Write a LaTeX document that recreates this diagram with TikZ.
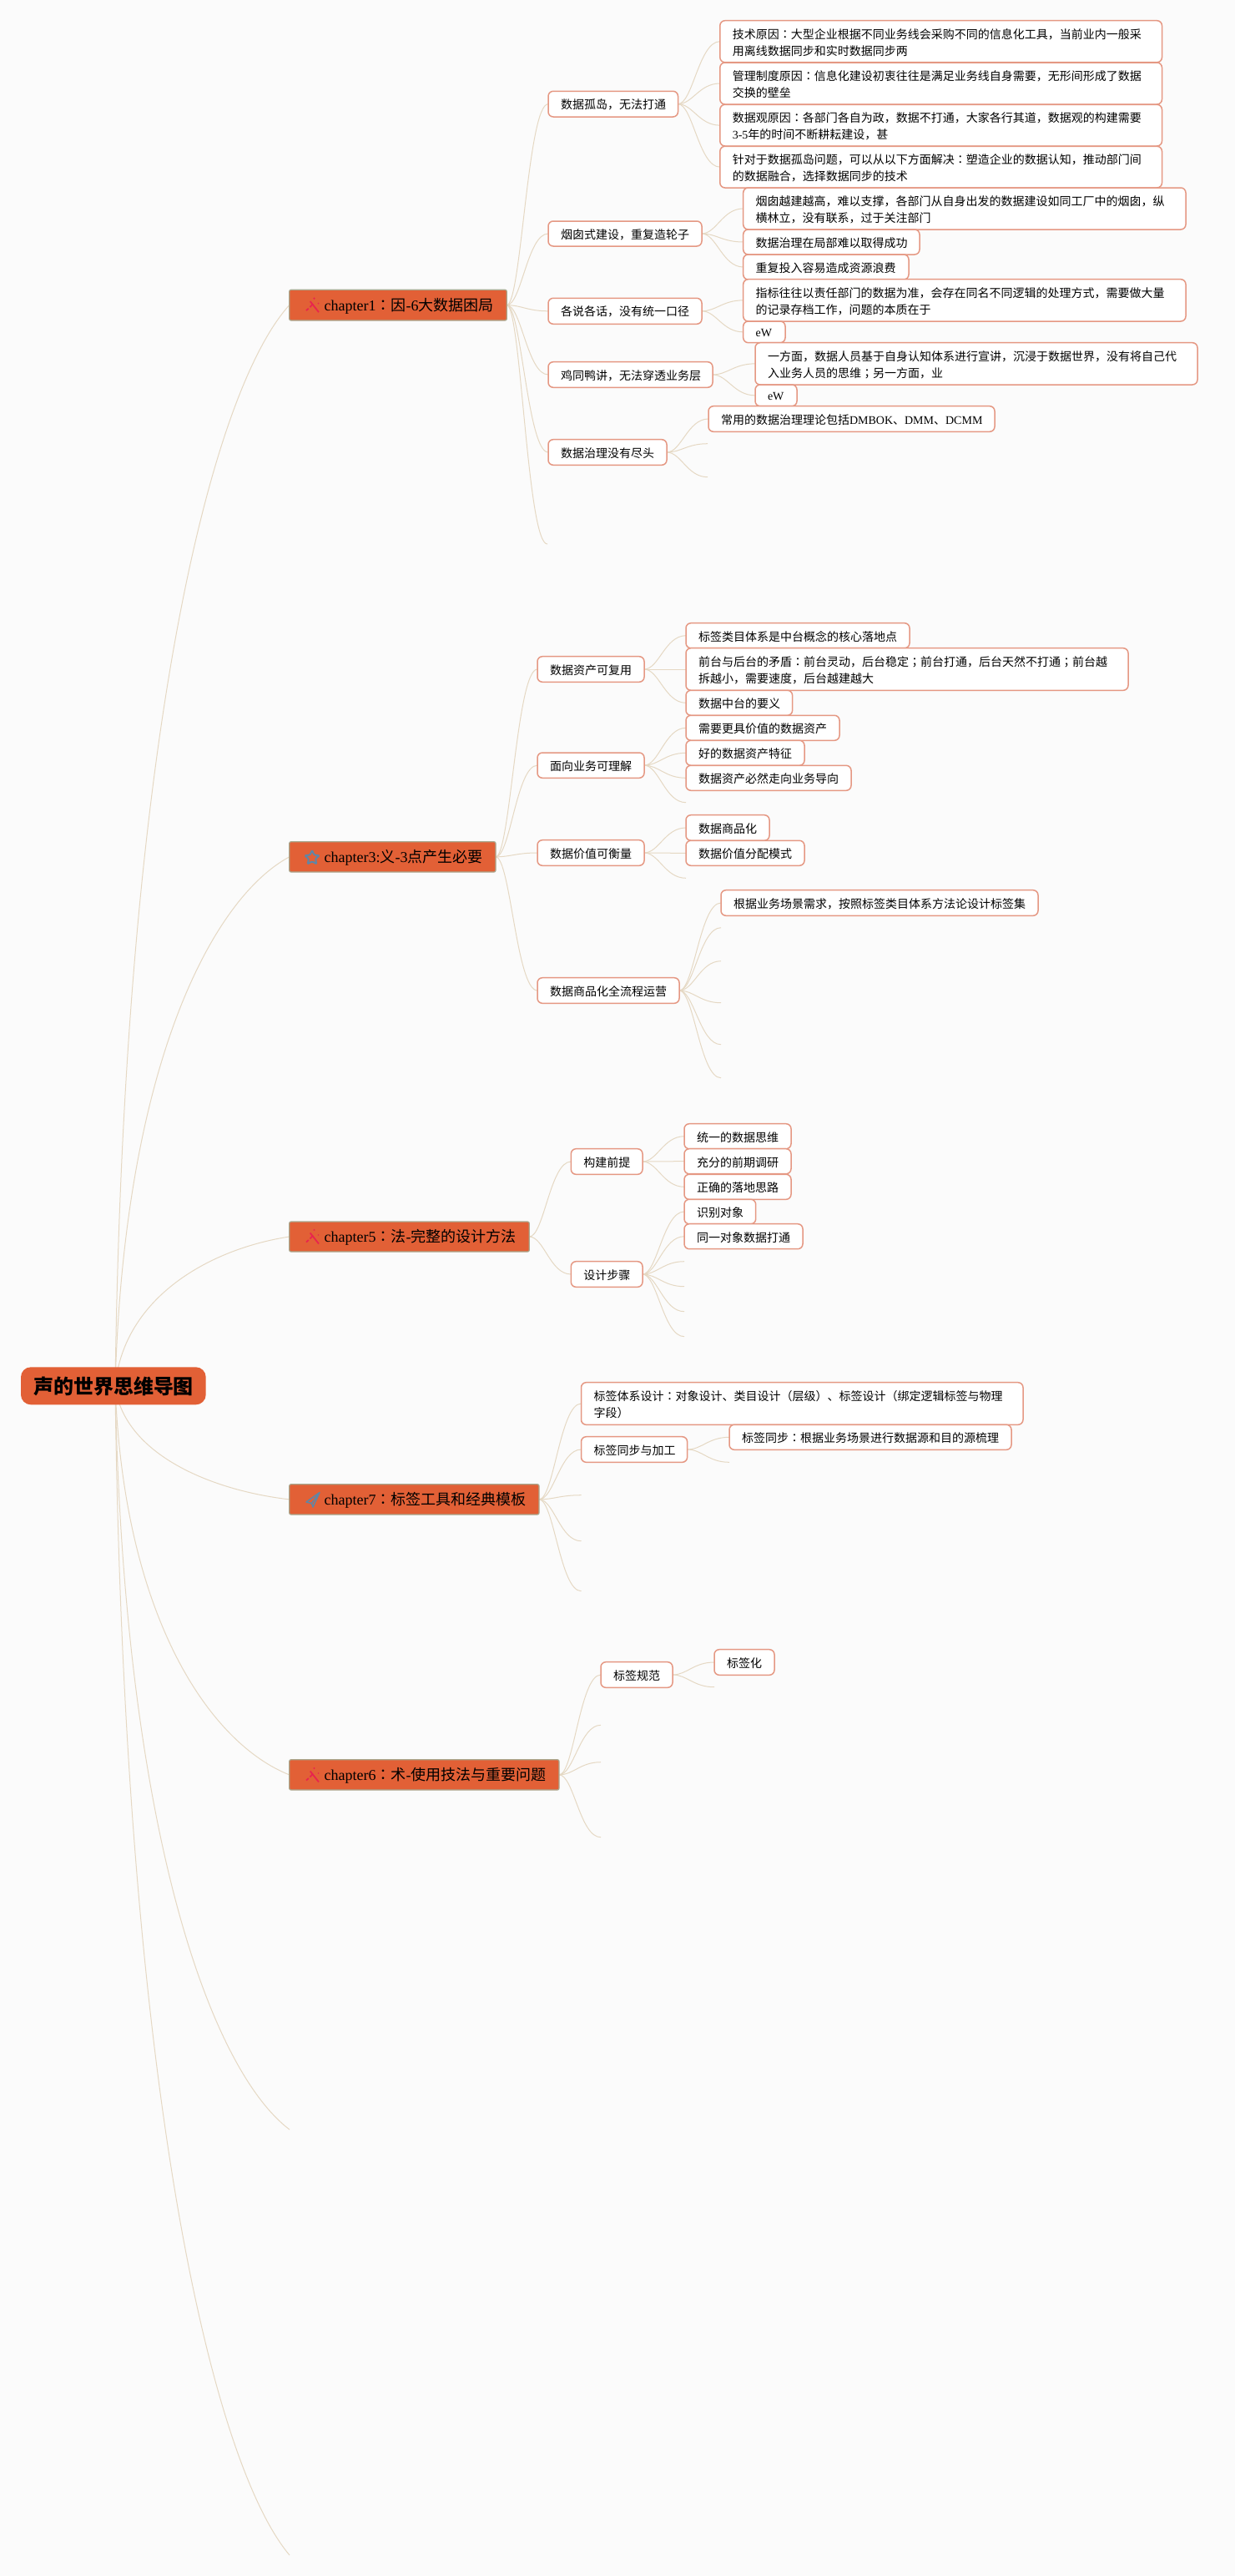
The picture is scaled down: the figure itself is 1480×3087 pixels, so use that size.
\documentclass[tikz,border=0pt]{standalone}
\usepackage{fontspec}
\usetikzlibrary{calc,backgrounds,shapes.geometric}
\setmainfont{Noto Sans CJK SC}
\newfontfamily\lat{Liberation Serif}
\newfontfamily\tcf{Noto Sans CJK TC}
\newcommand{\la}[1]{{\lat #1}}
\newcommand{\ccolon}{{\tcf ：}}
\newcommand{\csemi}{{\tcf ；}}
\definecolor{bgc}{HTML}{FBFBFB}
\definecolor{orng}{HTML}{E26036}
\definecolor{bdr}{HTML}{E59883}
\definecolor{chb}{HTML}{A9A88E}
\definecolor{lnk}{HTML}{E5D8C3}
\definecolor{icr}{HTML}{E8244E}
\definecolor{icb}{HTML}{5F86A6}
\definecolor{ink}{HTML}{000000}
\tikzset{
  mbox/.style={draw=bdr,fill=white,line width=1.5pt,rounded corners=6pt,inner sep=0pt,outer sep=0pt,
    align=left,text=ink,font=\fontsize{14}{20}\selectfont},
  chbox/.style={draw=chb,fill=orng,line width=1.2pt,rounded corners=2pt,inner sep=0pt,outer sep=0pt,
    align=left,text=ink,font=\fontsize{18}{22}\selectfont},
  rootbox/.style={fill=orng,rounded corners=12pt,inner sep=0pt,outer sep=0pt,
    align=left,text=ink,font=\fontsize{24}{28}\selectfont\bfseries},
  lk/.style={draw=lnk,line width=1pt},
  wandline/.style={draw=icr,line width=1.8pt},
  planeline/.style={draw=icb,line width=1.5pt,line join=round},
  starmark/.style={star,star points=5,star point ratio=2.1,draw=icb,line width=2pt,inner sep=0pt,minimum size=18pt,rounded corners=1pt}
}
\newcommand{\bx}[7][mbox]{%
  \pgfmathsetmacro\bw{#5-#3}\pgfmathsetmacro\bh{#6-#4}\pgfmathsetmacro\twd{\bw-30}%
  \node[#1,minimum width=\bw pt,minimum height=\bh pt,text width=\twd pt] (#2) at ({(#3+#5)/2},{(#4+#6)/2}) {\raisebox{-1pt}[\height][\depth]{\parbox{\twd pt}{\raggedright #7}}};}
\newcommand{\edg}[2]{%
  \draw[lk] let \p1=(#1),\p2=(#2),\n1={\x2-\x1} in (\p1) .. controls ({\x1+0.35*\n1},\y1) and ({\x1+0.5*\n1},\y2) .. (\p2);}
\newcommand{\rootedg}[1]{%
  \draw[lk] let \p1=(rootc),\p2=(#1),\n1={\x2-\x1},\n2={\y2-\y1} in (\p1) .. controls ({\x1+0.05*\n1},{\y1+0.6*\n2}) and ({\x1+0.55*\n1},{\y1+0.92*\n2}) .. (\p2);}
\newcommand{\wand}[1]{%
  \begin{scope}[shift={(366,#1)}]
    \draw[wandline] (5.7,-4.5) -- (16,8.5);
    \draw[wandline] (1,6.5) -- (3.8,4);
    \draw[wandline] (5.5,2.5) -- (9,-1.5);
    \fill[icr] (10.5,-8) circle (1.2pt);
    \fill[icr] (15.5,-2) circle (0.9pt);
  \end{scope}}
\begin{document}
\begin{tikzpicture}[x=1pt,y=-1pt]
\useasboundingbox (0,0) rectangle (1480,3087);

% root
\bx[rootbox]{root}{25}{1638.3}{246.7}{1683.3}{\mbox{声的世界思维导图}}
\coordinate (rootc) at (138,1661);

% chapters
\bx[chbox]{ch1}{346.7}{347.3}{607.3}{384}{\hspace*{27pt}\la{chapter1}\ccolon 因\la{-6}大数据困局}
\bx[chbox]{ch3}{346.7}{1008.7}{594}{1045}{\hspace*{27pt}\la{chapter3:}义\la{-3}点产生必要}
\bx[chbox]{ch5}{346.7}{1464}{634.3}{1500}{\hspace*{27pt}\la{chapter5}\ccolon 法\la{-}完整的设计方法}
\bx[chbox]{ch7}{346.7}{1778.7}{646}{1815}{\hspace*{27pt}\la{chapter7}\ccolon 标签工具和经典模板}
\bx[chbox]{ch6}{346.7}{2108.7}{670}{2145}{\hspace*{27pt}\la{chapter6}\ccolon 术\la{-}使用技法与重要问题}

\wand{365.6}
\node[starmark] (star3) at (374,1028) {};
\wand{1482}
\draw[planeline] (383,1788.5) -- (367,1800) -- (373.5,1801.5) -- (375,1806) -- (383,1788.5) -- (373.5,1801.5);
\wand{2127}

% chapter 1
\bx{a1}{657}{109.3}{812.5}{140}{数据孤岛，无法打通}
\bx{a11}{862.8}{24.7}{1392.5}{74.7}{技术原因\ccolon 大型企业根据不同业务线会采购不同的信息化工具，当前业内一般采\\用离线数据同步和实时数据同步两}
\bx{a12}{862.8}{75}{1392.5}{125}{管理制度原因\ccolon 信息化建设初衷往往是满足业务线自身需要，无形间形成了数据\\交换的壁垒}
\bx{a13}{862.8}{125.3}{1392.5}{175}{数据观原因\ccolon 各部门各自为政，数据不打通，大家各行其道，数据观的构建需要\\\la{3-5}年的时间不断耕耘建设，甚}
\bx{a14}{862.8}{175.3}{1392.5}{225}{针对于数据孤岛问题，可以从以下方面解决\ccolon 塑造企业的数据认知，推动部门间\\的数据融合，选择数据同步的技术}
\bx{a2}{657}{265}{841}{295}{烟囱式建设，重复造轮子}
\bx{a21}{890.7}{225}{1421}{275}{烟囱越建越高，难以支撑，各部门从自身出发的数据建设如同工厂中的烟囱，纵\\横林立，没有联系，过于关注部门}
\bx{a22}{890.7}{275}{1102}{305}{数据治理在局部难以取得成功}
\bx{a23}{890.7}{305}{1089}{335}{重复投入容易造成资源浪费}
\bx{a3}{657}{357.3}{841}{388.3}{各说各话，没有统一口径}
\bx{a31}{890.7}{334.7}{1421}{385}{指标往往以责任部门的数据为准，会存在同名不同逻辑的处理方式，需要做大量\\的记录存档工作，问题的本质在于}
\bx{a32}{890.7}{385}{941}{410.7}{\la{eW}}
\bx{a4}{657}{433.7}{854}{464.3}{鸡同鸭讲，无法穿透业务层}
\bx{a41}{905}{410.7}{1435}{461}{一方面，数据人员基于自身认知体系进行宣讲，沉浸于数据世界，没有将自己代\\入业务人员的思维\csemi 另一方面，业}
\bx{a42}{905}{461}{955}{486.7}{\la{eW}}
\bx{a5}{657}{526.7}{799}{557.3}{数据治理没有尽头}
\bx{a51}{849}{486.7}{1192}{517.3}{常用的数据治理理论包括\la{DMBOK}、\la{DMM}、\la{DCMM}}
\coordinate (a52) at (848,531.7);
\coordinate (a53) at (848,571.7);
\coordinate (a6) at (656,652);

% chapter 3
\bx{b1}{644}{786.7}{772}{817.3}{数据资产可复用}
\bx{b11}{822}{746.7}{1090}{776.7}{标签类目体系是中台概念的核心落地点}
\bx{b12}{822}{776.7}{1352}{827.3}{前台与后台的矛盾\ccolon 前台灵动，后台稳定\csemi 前台打通，后台天然不打通\csemi 前台越\\拆越小，需要速度，后台越建越大}
\bx{b13}{822}{827.3}{949.6}{857.3}{数据中台的要义}
\bx{b2}{644}{902}{772}{932.3}{面向业务可理解}
\bx{b21}{822}{857.3}{1006}{887.3}{需要更具价值的数据资产}
\bx{b22}{822}{887.3}{964}{917.3}{好的数据资产特征}
\bx{b23}{822}{917.3}{1020}{947.3}{数据资产必然走向业务导向}
\coordinate (b24) at (822,961.7);
\bx{b3}{644}{1006.7}{772}{1037.3}{数据价值可衡量}
\bx{b31}{822}{976.7}{922}{1007.3}{数据商品化}
\bx{b32}{822}{1007.3}{964}{1037.3}{数据价值分配模式}
\coordinate (b33) at (822,1052.3);
\bx{b4}{644}{1171.7}{814}{1202.3}{数据商品化全流程运营}
\bx{b41}{864}{1066.7}{1244}{1097.3}{根据业务场景需求，按照标签类目体系方法论设计标签集}
\coordinate (b42) at (864,1111.7);
\coordinate (b43) at (864,1151.7);
\coordinate (b44) at (864,1201.7);
\coordinate (b45) at (864,1251.7);
\coordinate (b46) at (864,1291.7);

% chapter 5
\bx{c1}{684.3}{1376.7}{770}{1407.3}{构建前提}
\bx{c11}{820}{1346.7}{948}{1376.7}{统一的数据思维}
\bx{c12}{820}{1376.7}{948}{1406.7}{充分的前期调研}
\bx{c13}{820}{1407.3}{948}{1437.3}{正确的落地思路}
\bx{c2}{684.3}{1511.7}{770}{1542.3}{设计步骤}
\bx{c21}{820}{1437.3}{905.7}{1466.7}{识别对象}
\bx{c22}{820}{1466.7}{962}{1496.7}{同一对象数据打通}
\coordinate (c23) at (820,1511.7);
\coordinate (c24) at (820,1541.7);
\coordinate (c25) at (820,1571.7);
\coordinate (c26) at (820,1601.7);

% chapter 7
\bx{d1}{696.5}{1656.7}{1226}{1707.3}{标签体系设计\ccolon 对象设计、类目设计（层级）、标签设计（绑定逻辑标签与物理\\字段）}
\bx{d2}{696.5}{1721.7}{823.6}{1752.3}{标签同步与加工}
\bx{d21}{874}{1707.3}{1212}{1737.3}{标签同步\ccolon 根据业务场景进行数据源和目的源梳理}
\coordinate (d22) at (874,1752.3);
\coordinate (d3) at (696.5,1791.7);
\coordinate (d4) at (696.5,1846.7);
\coordinate (d5) at (696.5,1906.7);

% chapter 6
\bx{e1}{720}{1991.7}{806}{2022.3}{标签规范}
\bx{e11}{856}{1976.7}{928}{2007.3}{标签化}
\coordinate (e12) at (856,2021.7);
\coordinate (e2) at (720,2067.3);
\coordinate (e3) at (720,2111.7);
\coordinate (e4) at (720,2201.7);

\coordinate (f1) at (347,2552);
\coordinate (f2) at (347,3062);

\begin{scope}[on background layer]
\fill[bgc] (0,0) rectangle (1480,3087);
\rootedg{ch1.west}\rootedg{ch3.west}\rootedg{ch5.west}\rootedg{ch7.west}\rootedg{ch6.west}\rootedg{f1}\rootedg{f2}
\foreach \t in {a1,a2,a3,a4,a5}{\edg{ch1.east}{\t.west}}
\edg{ch1.east}{a6}
\foreach \t in {a11,a12,a13,a14}{\edg{a1.east}{\t.west}}
\foreach \t in {a21,a22,a23}{\edg{a2.east}{\t.west}}
\foreach \t in {a31,a32}{\edg{a3.east}{\t.west}}
\foreach \t in {a41,a42}{\edg{a4.east}{\t.west}}
\edg{a5.east}{a51.west}\edg{a5.east}{a52}\edg{a5.east}{a53}
\foreach \t in {b1,b2,b3,b4}{\edg{ch3.east}{\t.west}}
\foreach \t in {b11,b12,b13}{\edg{b1.east}{\t.west}}
\foreach \t in {b21,b22,b23}{\edg{b2.east}{\t.west}}
\edg{b2.east}{b24}
\foreach \t in {b31,b32}{\edg{b3.east}{\t.west}}
\edg{b3.east}{b33}
\edg{b4.east}{b41.west}
\foreach \t in {b42,b43,b44,b45,b46}{\edg{b4.east}{\t}}
\foreach \t in {c1,c2}{\edg{ch5.east}{\t.west}}
\foreach \t in {c11,c12,c13}{\edg{c1.east}{\t.west}}
\foreach \t in {c21,c22}{\edg{c2.east}{\t.west}}
\foreach \t in {c23,c24,c25,c26}{\edg{c2.east}{\t}}
\foreach \t in {d1,d2}{\edg{ch7.east}{\t.west}}
\foreach \t in {d3,d4,d5}{\edg{ch7.east}{\t}}
\edg{d2.east}{d21.west}\edg{d2.east}{d22}
\edg{ch6.east}{e1.west}
\foreach \t in {e2,e3,e4}{\edg{ch6.east}{\t}}
\edg{e1.east}{e11.west}\edg{e1.east}{e12}
\end{scope}
\end{tikzpicture}
\end{document}
